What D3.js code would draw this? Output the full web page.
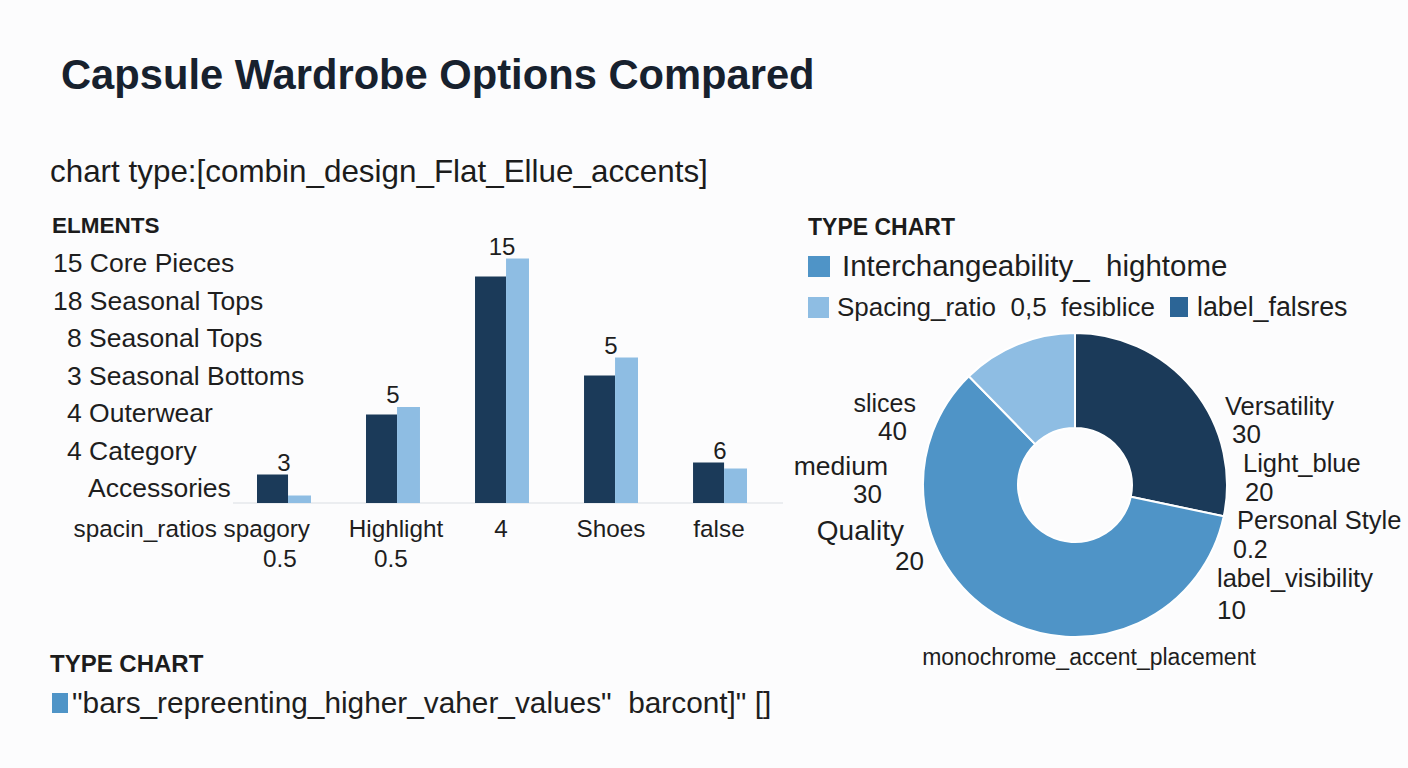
<!DOCTYPE html>
<html>
<head>
<meta charset="utf-8">
<script src="https://cdn.jsdelivr.net/npm/d3@7"></script>
<style>
  html, body { margin: 0; padding: 0; background: #fcfcfd; }
  svg { display: block; }
  text { font-family: "Liberation Sans", Arial, sans-serif; fill: #1e1e1e; white-space: pre; }
</style>
</head>
<body>
<svg id="chart" width="1408" height="768"></svg>
<script>
// ---------- data ----------
const titleText = "Capsule Wardrobe Options Compared";
const subtitleText = "chart type:[combin_design_Flat_Ellue_accents]";

const elementsHeader = "ELMENTS";
const elementItems = ["15 Core Pieces", "18 Seasonal Tops", "8 Seasonal Tops", "3 Seasonal Bottoms", "4 Outerwear", "4 Category", "Accessories"];
const elementIndent = [0, 0, 1, 1, 1, 1, 2];

const barCategories = [["spacin_ratios spagory", "0.5"], ["Highlight", "0.5"], ["4"], ["Shoes"], ["false"]];
const darkValues = [1.9, 5.9, 15.1, 8.5, 2.7];
const lightValues = [0.5, 6.4, 16.3, 9.7, 2.3];
const barValueLabels = ["3", "5", "15", "5", "6"];

const pieLegendHeader = "TYPE CHART";
const pieLegendItems = ["Interchangeability_  hightome", "Spacing_ratio  0,5  fesiblice", "label_falsres"];
const pieValues = [28.3, 59.4, 12.3];
const pieLeftLabels = [["slices", "40"], ["medium", "30"], ["Quality", "20"]];
const pieRightLabels = [["Versatility", "30"], ["Light_blue", "20"], ["Personal Style", "0.2"], ["label_visibility", "10"]];
const pieBottomLabel = "monochrome_accent_placement";

const barLegendHeader = "TYPE CHART";
const barLegendText = "\"bars_repreenting_higher_vaher_values\"  barcont]\" []";

// ---------- styles ----------
const NAVY = "#1b3a59";
const MED = "#4f94c7";
const LIGHT = "#8ebde3";
const LEG_DARK = "#2c6596";

const svg = d3.select("#chart");

// title & subtitle
svg.append("text").attr("x", 61).attr("y", 89)
  .style("font-size", "41.7px").style("font-weight", "bold").style("fill", "#17212e")
  .text(titleText);
svg.append("text").attr("x", 50).attr("y", 182)
  .style("font-size", "31.4px").style("fill", "#1c1c1c")
  .text(subtitleText);

// elements list
svg.append("text").attr("x", 52).attr("y", 233)
  .style("font-size", "22.5px").style("font-weight", "bold").style("fill", "#1c1c1c")
  .text(elementsHeader);
const indentX = [53, 67, 88];
svg.append("g").selectAll("text").data(elementItems).join("text")
  .attr("x", (d, i) => indentX[elementIndent[i]])
  .attr("y", (d, i) => 272 + i * 37.5)
  .style("font-size", "26.5px")
  .text(d => d);

// ---------- bar chart ----------
const x = d3.scaleBand().domain(d3.range(barCategories.length))
  .range([229.75, 774.25]).paddingInner(0.505).paddingOuter(0.25);
const y = d3.scaleLinear().domain([0, 18]).range([503, 233]);
const darkShare = 0.575;

const barG = svg.append("g");
barG.append("line")
  .attr("x1", 233).attr("x2", 783)
  .attr("y1", y(0)).attr("y2", y(0))
  .attr("stroke", "#d9dee4").attr("stroke-width", 1.2);

barG.selectAll("rect.dark").data(darkValues).join("rect")
  .attr("class", "dark")
  .attr("x", (d, i) => x(i))
  .attr("width", x.bandwidth() * darkShare)
  .attr("y", d => y(d))
  .attr("height", d => y(0) - y(d))
  .attr("fill", NAVY);
barG.selectAll("rect.light").data(lightValues).join("rect")
  .attr("class", "light")
  .attr("x", (d, i) => x(i) + x.bandwidth() * darkShare)
  .attr("width", x.bandwidth() * (1 - darkShare))
  .attr("y", d => y(d))
  .attr("height", d => y(0) - y(d))
  .attr("fill", LIGHT);

barG.selectAll("text.val").data(barValueLabels).join("text")
  .attr("class", "val")
  .attr("x", (d, i) => x(i) + x.bandwidth() / 2)
  .attr("y", (d, i) => y(Math.max(darkValues[i], lightValues[i])) - 4)
  .attr("text-anchor", "middle")
  .style("font-size", "24px")
  .text(d => d);

const xAxis = d3.axisBottom(x).tickSize(0).tickFormat("");
const axG = barG.append("g").attr("transform", `translate(0,${y(0)})`).call(xAxis);
axG.select(".domain").remove();
const tickShift = [[26, -4], [3, -2], [-1], [0], [-1]];
axG.selectAll(".tick").each(function (d, i) {
  const t = d3.select(this).append("text")
    .attr("fill", "#1e1e1e")
    .style("font-size", "24.3px")
    .attr("text-anchor", "middle");
  barCategories[i].forEach((line, j) => {
    const ts = t.append("tspan").attr("x", tickShift[i][j]).attr("y", 34 + j * 30).text(line);
    if (i === 0 && j === 0) ts.attr("text-anchor", "end");
  });
});

// ---------- donut ----------
const cx = 1075, cy = 485;
const pie = d3.pie().sort(null)(pieValues);
const arc = d3.arc().innerRadius(57).outerRadius(152);
const pieColors = [NAVY, MED, LIGHT];
const pieG = svg.append("g").attr("transform", `translate(${cx},${cy})`);
pieG.selectAll("path").data(pie).join("path")
  .attr("d", arc)
  .attr("fill", (d, i) => pieColors[i])
  .attr("stroke", "#ffffff").attr("stroke-width", 2);

// legend
svg.append("text").attr("x", 808).attr("y", 235)
  .style("font-size", "23px").style("font-weight", "bold").style("fill", "#1c1c1c")
  .text(pieLegendHeader);
svg.append("rect").attr("x", 808).attr("y", 256).attr("width", 22).attr("height", 21).attr("fill", MED);
svg.append("text").attr("x", 842).attr("y", 276).style("font-size", "29.5px").text(pieLegendItems[0]);
svg.append("rect").attr("x", 808).attr("y", 297).attr("width", 21).attr("height", 21).attr("fill", LIGHT);
svg.append("text").attr("x", 837).attr("y", 316).style("font-size", "26px").text(pieLegendItems[1]);
svg.append("rect").attr("x", 1170).attr("y", 297).attr("width", 18).attr("height", 20).attr("fill", LEG_DARK);
svg.append("text").attr("x", 1197).attr("y", 316).style("font-size", "26.8px").text(pieLegendItems[2]);

// donut labels (left, right-aligned)
const leftPos = [
  { x: 916, y: 412, vx: 907, vy: 440, fs: 25 },
  { x: 888, y: 475, vx: 882, vy: 503, fs: 26.5 },
  { x: 904, y: 540, vx: 924, vy: 570, fs: 28 }
];
pieLeftLabels.forEach((lab, i) => {
  const p = leftPos[i];
  svg.append("text").attr("x", p.x).attr("y", p.y).attr("text-anchor", "end")
    .style("font-size", p.fs + "px").text(lab[0]);
  svg.append("text").attr("x", p.vx).attr("y", p.vy).attr("text-anchor", "end")
    .style("font-size", "26px").text(lab[1]);
});
const rightPos = [
  { x: 1225, y: 415, vx: 1232, vy: 443, vfs: 26 },
  { x: 1243, y: 472, vx: 1245, vy: 501, vfs: 25.5 },
  { x: 1237, y: 529, vx: 1233, vy: 558, vfs: 25 },
  { x: 1217, y: 587, vx: 1217, vy: 619, vfs: 26 }
];
pieRightLabels.forEach((lab, i) => {
  const p = rightPos[i];
  svg.append("text").attr("x", p.x).attr("y", p.y).style("font-size", "25.5px").text(lab[0]);
  svg.append("text").attr("x", p.vx).attr("y", p.vy).style("font-size", p.vfs + "px").text(lab[1]);
});
svg.append("text").attr("x", 1089).attr("y", 665).attr("text-anchor", "middle")
  .style("font-size", "23px").text(pieBottomLabel);

// bottom legend
svg.append("text").attr("x", 50).attr("y", 672)
  .style("font-size", "24px").style("font-weight", "bold").style("fill", "#1c1c1c")
  .text(barLegendHeader);
svg.append("rect").attr("x", 52).attr("y", 693).attr("width", 16).attr("height", 20).attr("fill", MED);
svg.append("text").attr("x", 72).attr("y", 713).style("font-size", "29.8px").text(barLegendText);
</script>
</body>
</html>
